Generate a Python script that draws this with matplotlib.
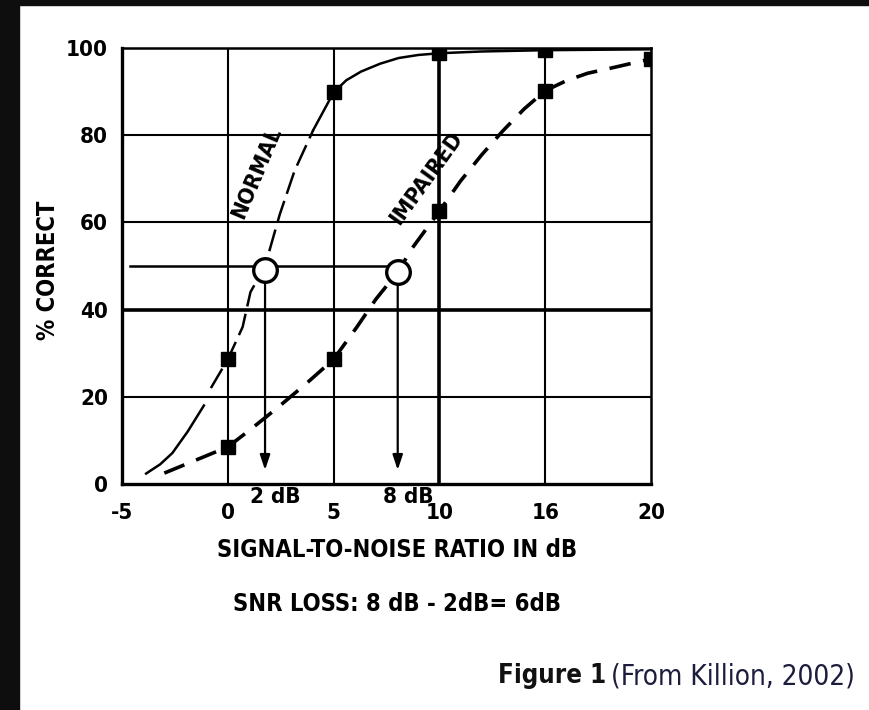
import numpy as np
import matplotlib.pyplot as plt
from matplotlib.patches import Rectangle

plt.rcParams['font.family'] = ['Liberation Sans Narrow', 'DejaVu Sans']
plt.rcParams['font.stretch'] = 'condensed'

W, H = 870, 710

# grid columns are evenly spaced, the printed labels are not
grid_x = [-5, 0, 5, 10, 15, 20]
x_labels = ['-5', '0', '5', '10', '16', '20']
grid_y = [0, 20, 40, 60, 80, 100]
y_labels = ['0', '20', '40', '60', '80', '100']

# normal hearing curve
normal_x = [-3.86, -3.2, -2.62, -1.9, -1.13, -0.8, 0, 0.7, 1.07, 1.76, 2.46, 3.16, 4.04, 5, 5.6, 6.3, 7.2, 8.07, 9.0, 10, 12, 15, 20]
normal_y = [2.4, 4.5, 7.1, 12, 18, 22, 28.6, 36, 44, 50, 61.9, 71.9, 81.2, 89.8, 92.6, 94.6, 96.4, 97.7, 98.4, 98.8, 99.2, 99.5, 99.7]
normal_pts_x = [0, 5, 10, 15]
normal_pts_y = [28.6, 89.8, 98.8, 99.6]

# impaired curve, traced
imp_x = [-3.0, -2.0, -1.0, 0, 1.07, 2.3, 3.7, 5, 6.1, 7.0, 8.03, 8.7, 10, 11, 12, 13, 14, 15, 16, 17, 18.3, 20]
imp_y = [2.5, 4.5, 6.5, 8.5, 12.5, 17.3, 23, 28.6, 36, 42.4, 48.6, 54, 62.6, 69.5, 75.5, 81, 86, 90.2, 92.5, 94.2, 95.6, 97.5]
imp_pts_x = [0, 5, 10, 15, 20]
imp_pts_y = [8.5, 28.6, 62.6, 90.2, 97.5]

# 50% crossings
circ_x = [1.76, 8.03]
circ_y = [49, 48.6]
arrow_end = 3.2

fig = plt.figure(figsize=(W / 100, H / 100), dpi=100)
fig.patch.set_facecolor('white')
# dark frame strips on left and top
fig.patches.append(Rectangle((0, 0), 19 / W, 1, transform=fig.transFigure, color='#0e0e0e', zorder=0))
fig.patches.append(Rectangle((0, 1 - 5 / H), 1, 5 / H, transform=fig.transFigure, color='#0e0e0e', zorder=0))

ax = fig.add_axes([122 / W, 1 - 484 / H, (651 - 122) / W, (484 - 48) / H])
ax.set_xlim(-5, 20)
ax.set_ylim(0, 100)

for gx in grid_x[1:-1]:
    ax.axvline(gx, color='black', lw=2.6 if gx == 10 else 1.5, zorder=1)
for gy in grid_y[1:-1]:
    ax.axhline(gy, color='black', lw=2.6 if gy == 40 else 1.5, zorder=1)
for s in ['left', 'bottom']:
    ax.spines[s].set_linewidth(2.4)
for s in ['top', 'right']:
    ax.spines[s].set_linewidth(1.8)

# normal: solid low end, long dashes in the middle, solid top
ax.plot(normal_x[:5], normal_y[:5], color='black', lw=1.8, zorder=3)
ax.plot(normal_x[5:13], normal_y[5:13], color='black', lw=1.8, ls=(0, (9, 3)), zorder=3)
ax.plot(normal_x[12:], normal_y[12:], color='black', lw=1.8, zorder=3)
ax.plot(normal_pts_x, normal_pts_y, 's', color='black', ms=10, zorder=4)

ax.plot(imp_x, imp_y, color='black', lw=2.6, ls=(0, (6, 3.5)), zorder=3)
ax.plot(imp_pts_x, imp_pts_y, 's', color='black', ms=10, zorder=4)

ax.plot([-4.6, circ_x[1]], [50, 50], color='black', lw=1.8, zorder=3)
for cx, cy in zip(circ_x, circ_y):
    ax.annotate('', xy=(cx, arrow_end), xytext=(cx, cy),
                arrowprops=dict(arrowstyle='-|>,head_length=0.9,head_width=0.3', color='black', lw=1.6,
                                shrinkA=0, shrinkB=0), zorder=3)
ax.plot(circ_x, circ_y, 'o', ms=17, mfc='white', mec='black', mew=2.4, zorder=5)

ax.text(1.38, 71.5, 'NORMAL', rotation=67, ha='center', va='center', fontsize=16, fontweight='bold', zorder=6)
ax.text(9.4, 70.2, 'IMPAIRED', rotation=54, ha='center', va='center', fontsize=16, fontweight='bold', zorder=6)

ax.set_xticks(grid_x)
ax.set_xticklabels(x_labels)
ax.set_yticks(grid_y)
ax.set_yticklabels(y_labels)
ax.tick_params(length=0, labelsize=16)
ax.tick_params(axis='x', pad=14)
ax.tick_params(axis='y', pad=10)
for lab in ax.get_xticklabels() + ax.get_yticklabels():
    lab.set_fontweight('bold')

ax.text(circ_x[0] + 0.5, -3.0, '2 dB', ha='center', va='center', fontsize=16, fontweight='bold')
ax.text(circ_x[1] + 0.5, -3.0, '8 dB', ha='center', va='center', fontsize=16, fontweight='bold')

def ftext(px, py, s, **kw):
    fig.text(px / W, 1 - py / H, s, **kw)

ftext(48, 270, '% CORRECT', rotation=90, ha='center', va='center', fontsize=17, fontweight='bold')
ftext(397, 550, 'SIGNAL-TO-NOISE RATIO IN dB', ha='center', va='center', fontsize=17, fontweight='bold')
ftext(397, 604, 'SNR LOSS: 8 dB - 2dB= 6dB', ha='center', va='center', fontsize=17, fontweight='bold')
ftext(498, 676, 'Figure 1', ha='left', va='center', fontsize=18.5, fontweight='bold', color='#111111')
ftext(855, 676, '(From Killion, 2002)', ha='right', va='center', fontsize=20, color='#1c1c3c')

fig.savefig('out.png', dpi=100)
